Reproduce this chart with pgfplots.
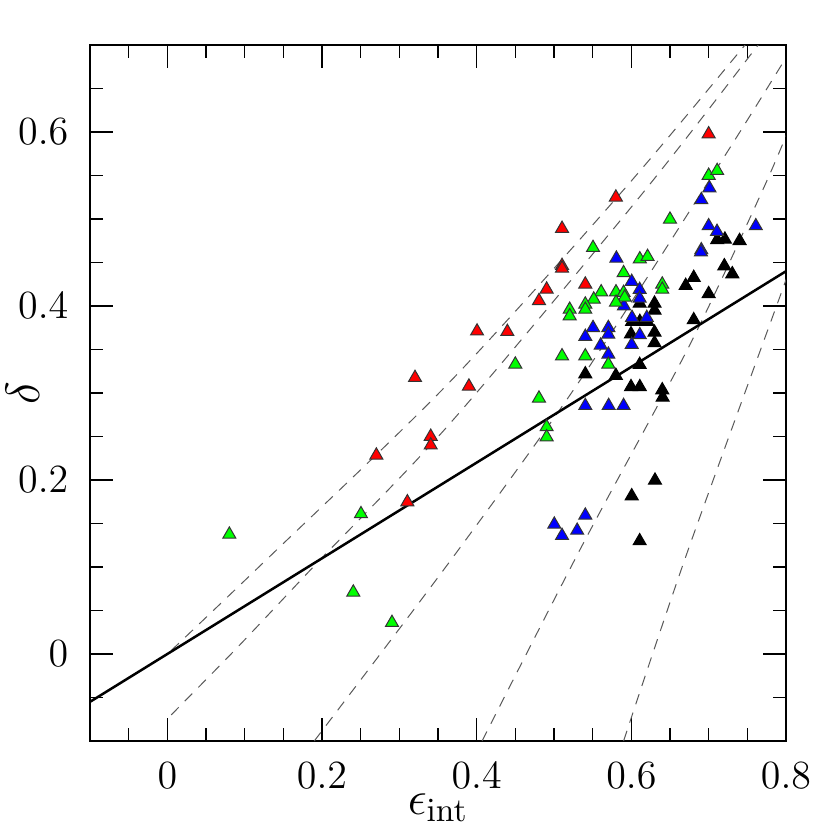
\documentclass[border=0pt]{standalone}
\usepackage{pgfplots}
\pgfplotsset{compat=1.18}
\begin{document}
\begin{tikzpicture}
\useasboundingbox (-27pt,-26.7pt) rectangle (222pt,222.3pt);
\begin{axis}[
  at={(0,0)}, anchor=south west,
  scale only axis, width=208.8pt, height=208.8pt,
  xmin=-0.1, xmax=0.8, ymin=-0.1, ymax=0.7,
  xtick={0,0.2,0.4,0.6,0.8}, ytick={0,0.2,0.4,0.6},
  minor xtick={-0.05,0.05,0.1,0.15,0.25,0.3,0.35,0.45,0.5,0.55,0.65,0.7,0.75},
  minor ytick={-0.05,0.05,0.1,0.15,0.25,0.3,0.35,0.45,0.5,0.55,0.65},
  tick align=inside,
  major tick length=6.9pt, minor tick length=3.9pt,
  axis line style={line width=0.6pt},
  tick style={black, line width=0.45pt},
  tick label style={font=\fontsize{12}{12}\selectfont},
  xticklabel style={yshift=-3pt},
  yticklabel style={xshift=-3pt},
  xlabel={$\epsilon_{\mathrm{int}}$},
  ylabel={$\delta$},
  label style={font=\fontsize{14}{14}\selectfont},
  xlabel style={at={(axis description cs:0.5,-0.105)}, anchor=base},
  ylabel style={at={(axis description cs:-0.097,0.5)}, anchor=center},
  mark size=2.25pt,
]
% model curves
\addplot[gray!70!black, line width=0.3pt, dash pattern=on 3.2pt off 2.6pt, smooth] coordinates {
  (0.005,0.004) (0.13,0.11) (0.3634,0.311) (0.5875,0.531) (0.747,0.70) (0.76,0.715)};
\addplot[gray!70!black, line width=0.3pt, dash pattern=on 3.2pt off 2.6pt, smooth] coordinates {
  (0.005,-0.07) (0.09,0.007) (0.194,0.105) (0.3655,0.265) (0.611,0.5257) (0.764,0.70) (0.777,0.715)};
\addplot[gray!70!black, line width=0.3pt, dash pattern=on 3.2pt off 2.6pt, smooth] coordinates {
  (0.19,-0.1) (0.37,0.112) (0.534,0.315) (0.7147,0.564) (0.797,0.681) (0.81,0.70)};
\addplot[gray!70!black, line width=0.3pt, dash pattern=on 3.2pt off 2.6pt, smooth] coordinates {
  (0.407,-0.1) (0.536,0.124) (0.676,0.356) (0.766,0.5257) (0.8,0.595) (0.81,0.615)};
\addplot[gray!70!black, line width=0.3pt, dash pattern=on 3.2pt off 2.6pt, smooth] coordinates {
  (0.59,-0.1) (0.672,0.116) (0.8,0.43) (0.81,0.455)};

% black
\addplot[only marks, mark=triangle*, mark options={fill=black, draw=black, line width=0.3pt}] coordinates {
  (0.711,0.476) (0.721,0.4766) (0.740,0.475) (0.7203,0.446) (0.7306,0.4368)
  (0.6807,0.4326) (0.6703,0.4234) (0.700,0.414) (0.6108,0.403) (0.630,0.403)
  (0.630,0.395) (0.6009,0.382) (0.611,0.382) (0.6207,0.382) (0.5996,0.3678)
  (0.630,0.3697) (0.630,0.3575) (0.6807,0.384) (0.6108,0.3326) (0.5405,0.3218)
  (0.580,0.320) (0.5996,0.307) (0.611,0.307) (0.640,0.3034) (0.6405,0.295)
  (0.6306,0.1996) (0.6005,0.1816) (0.6108,0.1299)};
% blue
\addplot[only marks, mark=triangle*, mark options={fill=blue, draw=black!80, line width=0.3pt}] coordinates {
  (0.701,0.5356) (0.6905,0.522) (0.700,0.492) (0.7108,0.4855) (0.761,0.492)
  (0.6905,0.4644) (0.690,0.462) (0.5807,0.4548) (0.6005,0.428) (0.6108,0.4188)
  (0.6108,0.4088) (0.5905,0.400) (0.6009,0.3866) (0.620,0.3866) (0.5505,0.375)
  (0.5703,0.375) (0.5703,0.3674) (0.5405,0.3648) (0.611,0.3667) (0.5604,0.3548)
  (0.6005,0.3556) (0.5703,0.3444) (0.5405,0.2854) (0.5707,0.2854) (0.590,0.2854)
  (0.5405,0.1594) (0.5004,0.149) (0.5104,0.136) (0.530,0.142)};
% green
\addplot[only marks, mark=triangle*, mark options={fill=green, draw=black!80, line width=0.3pt}] coordinates {
  (0.700,0.550) (0.711,0.5555) (0.650,0.4996) (0.5505,0.467) (0.611,0.454)
  (0.621,0.4567) (0.590,0.438) (0.640,0.425) (0.640,0.419) (0.561,0.416)
  (0.5514,0.4077) (0.5802,0.416) (0.590,0.4153) (0.5914,0.410) (0.5802,0.4042)
  (0.5203,0.396) (0.5203,0.3885) (0.5405,0.402) (0.5405,0.396) (0.5104,0.3425)
  (0.5405,0.3425) (0.5703,0.333) (0.450,0.333) (0.4806,0.2939) (0.4905,0.261)
  (0.4905,0.2494) (0.2504,0.161) (0.0802,0.1375) (0.2405,0.0709) (0.2905,0.036)};
% red
\addplot[only marks, mark=triangle*, mark options={fill=red, draw=black!80, line width=0.3pt}] coordinates {
  (0.700,0.5977) (0.580,0.525) (0.5104,0.489) (0.5104,0.4464) (0.5104,0.4433)
  (0.5405,0.425) (0.4905,0.4192) (0.4806,0.406) (0.4397,0.3705) (0.4005,0.371)
  (0.390,0.3077) (0.3203,0.3176) (0.3406,0.250) (0.3406,0.240) (0.2703,0.2284)
  (0.3104,0.1747)};

% fit line
\addplot[black, line width=0.75pt] coordinates {(-0.1,-0.055) (0.8,0.44)};
\end{axis}
\end{tikzpicture}
\end{document}
